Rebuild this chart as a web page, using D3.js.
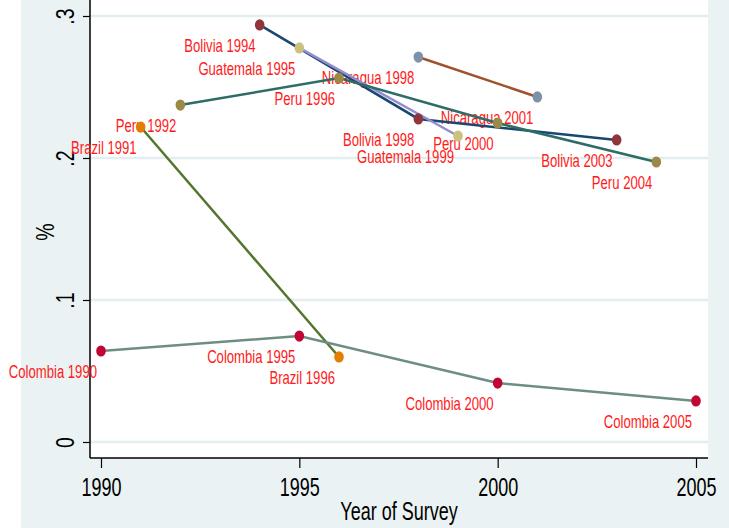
<!DOCTYPE html>
<html>
<head>
<meta charset="utf-8">
<script src="https://cdn.jsdelivr.net/npm/d3@7"></script>
<style>
  html, body { margin: 0; padding: 0; background: #ffffff; }
  text { font-family: "Liberation Sans", Arial, sans-serif; }
</style>
</head>
<body>
<div id="chart"></div>
<script>
// Survey values by country (share)
const countries = ["Bolivia", "Guatemala", "Nicaragua", "Peru", "Brazil", "Colombia"];

const boliviaYears = [1994, 1998, 2003];
const boliviaValues = [0.2937, 0.2275, 0.2127];

const guatemalaYears = [1995, 1999];
const guatemalaValues = [0.2775, 0.2155];

const nicaraguaYears = [1998, 2001];
const nicaraguaValues = [0.2711, 0.2430];

const peruYears = [1992, 1996, 2000, 2004];
const peruValues = [0.2373, 0.2563, 0.2246, 0.1972];

const brazilYears = [1991, 1996];
const brazilValues = [0.2218, 0.0599];

const colombiaYears = [1990, 1995, 2000, 2005];
const colombiaValues = [0.0641, 0.0746, 0.0415, 0.0289];

const xTicks = [1990, 1995, 2000, 2005];
const yTicks = [0, 0.1, 0.2, 0.3];
const yTickLabels = ["0", ".1", ".2", ".3"];

const series = [
    { name: "Bolivia", years: boliviaYears, values: boliviaValues, line: "#1a476f", marker: "#90353b" },
    { name: "Guatemala", years: guatemalaYears, values: guatemalaValues, line: "#938dd2", marker: "#cac27e" },
    { name: "Nicaragua", years: nicaraguaYears, values: nicaraguaValues, line: "#a0522d", marker: "#7b92a8" },
    { name: "Brazil", years: brazilYears, values: brazilValues, line: "#55752f", marker: "#e37e00" },
    { name: "Peru", years: peruYears, values: peruValues, line: "#2d6d66", marker: "#9c8847" },
    { name: "Colombia", years: colombiaYears, values: colombiaValues, line: "#6e8e84", marker: "#c10534" }
];

const width = 729, height = 528;
const squeeze = "scale(0.72,1)";   // narrow Stata-like lettering

const svg = d3.select("#chart").append("svg")
    .attr("width", width)
    .attr("height", height);

// outer graph region and white plot region
svg.append("rect").attr("x", 21).attr("y", 0).attr("width", width - 21).attr("height", height)
    .attr("fill", "#eaf2f3");
svg.append("rect").attr("x", 90).attr("y", 0).attr("width", 618).attr("height", 458)
    .attr("fill", "#ffffff");

const x = d3.scaleLinear().domain([1990, 2005]).range([101, 696]);
const y = d3.scaleLinear().domain([0, 0.3]).range([442, 16]);

// gridlines
svg.append("g").selectAll("line")
    .data(yTicks)
    .enter().append("line")
    .attr("x1", 90).attr("x2", 708)
    .attr("y1", d => y(d)).attr("y2", d => y(d))
    .attr("stroke", "#e4eef0")
    .attr("stroke-width", 2.5);

// x axis
const xAxis = svg.append("g")
    .attr("transform", "translate(0,458)")
    .call(d3.axisBottom(x).tickValues(xTicks).tickFormat(d3.format("d")).tickSize(10).tickPadding(10));
xAxis.select(".domain").attr("d", "M90,0H708").attr("stroke-width", 1.5);
xAxis.selectAll(".tick line").attr("stroke-width", 1.2);
xAxis.selectAll(".tick text")
    .attr("font-size", 25)
    .attr("fill", "#000")
    .attr("transform", squeeze);

// y axis
const yAxis = svg.append("g")
    .attr("transform", "translate(90,0)")
    .call(d3.axisLeft(y).tickValues(yTicks).tickFormat((d, i) => yTickLabels[i]).tickSize(7));
yAxis.select(".domain").attr("d", "M0,0V458").attr("stroke-width", 1.5);
yAxis.selectAll(".tick line").attr("stroke-width", 1.2);
yAxis.selectAll(".tick text")
    .attr("x", null).attr("dy", null)
    .attr("font-size", 25)
    .attr("fill", "#000")
    .attr("text-anchor", "middle")
    .attr("transform", "translate(-16,0) rotate(-90) scale(0.78,1)");

// axis titles
svg.append("text")
    .attr("transform", "translate(399,520) " + squeeze)
    .attr("text-anchor", "middle")
    .attr("font-size", 25)
    .text("Year of Survey");

svg.append("text")
    .attr("transform", "translate(54,232) rotate(-90) scale(0.78,1)")
    .attr("text-anchor", "middle")
    .attr("font-size", 25)
    .text("%");

// point records for labels and markers
const points = series.flatMap(s => s.years.map((yr, i) => ({ name: s.name, year: yr, value: s.values[i], color: s.marker })));

// labels (clock position 7)
svg.append("g").selectAll("text")
    .data(points)
    .enter().append("text")
    .attr("transform", d => "translate(" + (x(d.year) - 4) + "," + (y(d.value) + 27) + ") scale(0.75,1)")
    .attr("text-anchor", "end")
    .attr("font-size", 17.5)
    .attr("fill", "#ff1a1a")
    .text(d => d.name + " " + d.year);

// connecting lines
const line = d3.line().x(d => x(d[0])).y(d => y(d[1]));
svg.append("g").selectAll("path")
    .data(series)
    .enter().append("path")
    .attr("d", s => line(s.years.map((yr, i) => [yr, s.values[i]])))
    .attr("fill", "none")
    .attr("stroke", s => s.line)
    .attr("stroke-width", 2.5);

// markers
svg.append("g").selectAll("ellipse")
    .data(points)
    .enter().append("ellipse")
    .attr("cx", d => x(d.year))
    .attr("cy", d => y(d.value))
    .attr("rx", 4.8)
    .attr("ry", 5.6)
    .attr("fill", d => d.color);
</script>
</body>
</html>
